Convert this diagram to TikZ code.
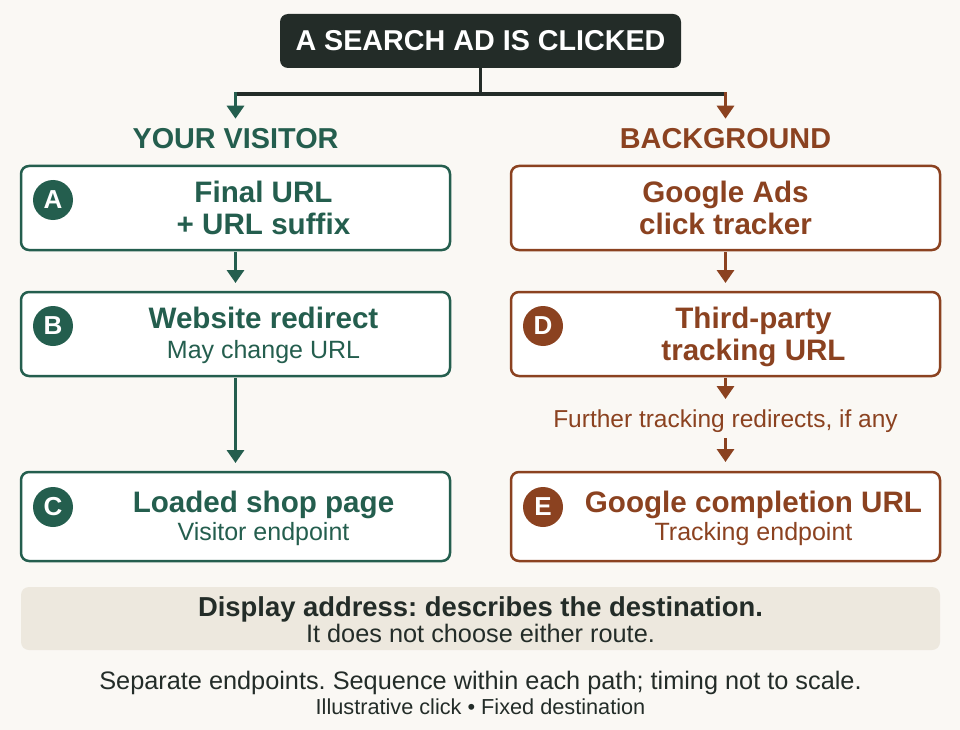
\documentclass[tikz,border=0pt]{standalone}
\usepackage{fontspec}
\setmainfont{Liberation Sans}
\usepackage{xcolor}
\usetikzlibrary{positioning}
\usetikzlibrary{arrows.meta}
\definecolor{visgreen}{RGB}{36,94,78}
\definecolor{bgbrown}{RGB}{139,66,32}
\definecolor{inkdark}{RGB}{35,44,40}
\definecolor{paper}{RGB}{250,248,244}
\definecolor{notefill}{RGB}{237,232,222}
\tikzset{>={Triangle[width=17pt,length=13pt]}}
\frenchspacing

\begin{document}
\begin{tikzpicture}[x=1pt, y=-1pt,
    pathbox/.style={rectangle, rounded corners=8pt, draw=#1, line width=2.5pt, fill=white, minimum width=429pt, minimum height=84pt, inner sep=0pt, outer sep=0pt},
    badge/.style={circle, fill=#1, minimum size=40pt, inner sep=0pt, text=white, font=\fontsize{26}{28}\selectfont\bfseries},
    head/.style={text=#1, anchor=base, inner sep=0pt, font=\fontsize{29.6}{32}\selectfont\bfseries},
    sub/.style={text=#1, anchor=base, inner sep=0pt, font=\fontsize{25}{28}\selectfont},
    colhead/.style={text=#1, anchor=base, inner sep=0pt, font=\fontsize{28.8}{32}\selectfont\bfseries},
    flow/.style={->, line width=3.5pt, draw=#1, shorten >=9pt, shorten <=2pt}]

    % canvas
    \fill[paper] (0,0) rectangle (960,730);
    \useasboundingbox (0,0) rectangle (960,730);

    %Nodes
    \node[rectangle, rounded corners=8pt, fill=inkdark, minimum width=401pt, minimum height=54pt, text=white, font=\fontsize{28.7}{32}\selectfont\bfseries](click) at (480.5,41){A SEARCH AD IS CLICKED};
    \coordinate (hub) at (480.5,94);
    \coordinate (split_l) at (235.5,94);
    \coordinate (split_r) at (725.5,94);
    \node[colhead=visgreen](visitor) at (235.5,149){YOUR VISITOR};
    \node[colhead=bgbrown](background) at (725.5,149){BACKGROUND};

    \node[pathbox=visgreen](final) at (235.5,208){};
    \node[pathbox=visgreen](redirect)[below=42pt of final]{};
    \node[pathbox=visgreen, minimum height=89pt](shop)[below=96pt of redirect]{};
    \node[pathbox=bgbrown](tracker)[right=61pt of final]{};
    \node[pathbox=bgbrown](thirdparty)[below=42pt of tracker]{};
    \node[pathbox=bgbrown, minimum height=89pt](completion)[below=96pt of thirdparty]{};

    \node[badge=visgreen](badge_a) at ([xshift=32pt,yshift=8pt]final.west){A};
    \node[badge=visgreen](badge_b) at ([xshift=32pt,yshift=8pt]redirect.west){B};
    \node[badge=visgreen](badge_c) at ([xshift=32pt,yshift=9.5pt]shop.west){C};
    \node[badge=bgbrown](badge_d) at ([xshift=32pt,yshift=8pt]thirdparty.west){D};
    \node[badge=bgbrown](badge_e) at ([xshift=32pt,yshift=9.5pt]completion.west){E};

    \node[head=visgreen](final_t1) at ([xshift=28pt,yshift=6pt]final.center){Final URL};
    \node[head=visgreen](final_t2) at ([xshift=28pt,yshift=-26pt]final.center){+ URL suffix};
    \node[head=visgreen](redirect_t) at ([xshift=28pt,yshift=6pt]redirect.center){Website redirect};
    \node[sub=visgreen](redirect_s) at ([xshift=28pt,yshift=-24pt]redirect.center){May change URL};
    \node[head=visgreen](shop_t) at ([xshift=28pt,yshift=4.5pt]shop.center){Loaded shop page};
    \node[sub=visgreen](shop_s) at ([xshift=28pt,yshift=-24pt]shop.center){Visitor endpoint};

    \node[head=bgbrown](tracker_t1) at ([yshift=6pt]tracker.center){Google Ads};
    \node[head=bgbrown](tracker_t2) at ([yshift=-26.5pt]tracker.center){click tracker};
    \node[head=bgbrown](thirdparty_t1) at ([xshift=28pt,yshift=6pt]thirdparty.center){Third-party};
    \node[head=bgbrown](thirdparty_t2) at ([xshift=28pt,yshift=-26.5pt]thirdparty.center){tracking URL};
    \node[head=bgbrown](completion_t) at ([xshift=28pt,yshift=4.5pt]completion.center){Google completion URL};
    \node[sub=bgbrown](completion_s) at ([xshift=28pt,yshift=-23.5pt]completion.center){Tracking endpoint};
    \node[sub=bgbrown, font=\fontsize{24.5}{28}\selectfont](further) at (725.5,427){Further tracking redirects, if any};

    \node[rectangle, rounded corners=8pt, fill=notefill, minimum width=919pt, minimum height=63pt](note) at (480.5,618.5){};
    \node[anchor=base, inner sep=0pt, text=inkdark, font=\fontsize{27.4}{30}\selectfont\bfseries](note_t) at (480.5,616){Display address: describes the destination.};
    \node[anchor=base, inner sep=0pt, text=inkdark, font=\fontsize{25.3}{28}\selectfont](note_s) at (480.5,642){It does not choose either route.};
    \node[anchor=base, inner sep=0pt, text=inkdark, font=\fontsize{25.3}{28}\selectfont](footer) at (480.5,689){Separate endpoints. Sequence within each path; timing not to scale.};
    \node[anchor=base, inner sep=0pt, text=inkdark, font=\fontsize{21.7}{24}\selectfont](footer_s) at (480.5,714){Illustrative click • Fixed destination};

    %Lines
    \draw[line width=3.5pt, draw=inkdark] (click.south) -- (hub);
    \draw[line width=3.5pt, draw=inkdark] (split_l) -- (split_r);
    \draw[flow=visgreen, shorten <=-1.5pt, shorten >=10pt] (split_l) -- (visitor.north);
    \draw[flow=bgbrown, shorten <=-1.5pt, shorten >=10pt] (split_r) -- (background.north);
    \draw[flow=visgreen] (final.south) -- (redirect.north);
    \draw[flow=visgreen] (redirect.south) -- (shop.north);
    \draw[flow=bgbrown] (tracker.south) -- (thirdparty.north);
    \draw[flow=bgbrown, shorten >=10pt] (thirdparty.south) -- (thirdparty.south |- further.north);
    \draw[flow=bgbrown, shorten <=6pt, shorten >=10pt] (further.south -| completion.north) -- (completion.north);
\end{tikzpicture}
\end{document}
